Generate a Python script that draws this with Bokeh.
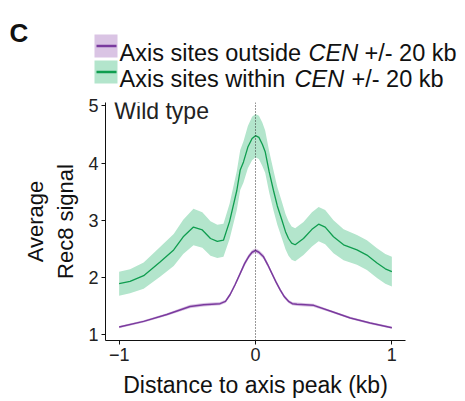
from bokeh.plotting import figure
from bokeh.layouts import column
from bokeh.models import Range1d, FixedTicker, Span, Label
from bokeh.embed import file_html
from bokeh.resources import INLINE

FONT = "Liberation Sans"

# ---- data ----
within_x = [-1.0, -0.92, -0.82, -0.70, -0.60, -0.53, -0.455, -0.39, -0.33, -0.28, -0.235,
            -0.19, -0.137, -0.112, -0.088, -0.056, -0.025, 0.0, 0.025, 0.05, 0.071, 0.10,
            0.132, 0.16, 0.194, 0.22, 0.242, 0.265, 0.291, 0.352, 0.414, 0.463, 0.511,
            0.572, 0.646, 0.744, 0.817, 0.891, 0.952, 1.0]
within_mean = [1.89, 1.93, 2.03, 2.27, 2.48, 2.71, 2.88, 2.83, 2.68, 2.63, 2.65,
               2.98, 3.52, 3.88, 4.02, 4.28, 4.43, 4.48, 4.45, 4.33, 4.20, 3.85,
               3.52, 3.25, 3.00, 2.80, 2.68, 2.60, 2.57, 2.68, 2.84, 2.93, 2.88,
               2.71, 2.57, 2.48, 2.39, 2.25, 2.15, 2.10]
within_err = [0.21, 0.21, 0.23, 0.26, 0.28, 0.30, 0.32, 0.31, 0.30, 0.29, 0.29,
              0.31, 0.34, 0.35, 0.36, 0.37, 0.38, 0.38, 0.38, 0.38, 0.37, 0.36,
              0.35, 0.33, 0.32, 0.31, 0.30, 0.29, 0.29, 0.29, 0.30, 0.30, 0.30,
              0.29, 0.27, 0.26, 0.26, 0.26, 0.26, 0.26]

outside_x = [-1.0, -0.82, -0.65, -0.48, -0.38, -0.26, -0.22, -0.186, -0.15, -0.112, -0.08,
             -0.051, -0.025, 0.0, 0.025, 0.059, 0.09, 0.12, 0.15, 0.181, 0.212, 0.242,
             0.27, 0.304, 0.426, 0.548, 0.695, 0.841, 1.0]
outside_mean = [1.13, 1.23, 1.35, 1.49, 1.52, 1.54, 1.58, 1.70, 1.87, 2.07, 2.24,
                2.36, 2.44, 2.47, 2.44, 2.36, 2.22, 2.07, 1.92, 1.78, 1.66, 1.58,
                1.54, 1.53, 1.51, 1.41, 1.29, 1.20, 1.12]
outside_err = [0.02, 0.02, 0.02, 0.03, 0.03, 0.03, 0.03, 0.03, 0.03, 0.03, 0.04,
               0.04, 0.04, 0.04, 0.04, 0.04, 0.04, 0.03, 0.03, 0.03, 0.03, 0.03,
               0.03, 0.03, 0.03, 0.02, 0.02, 0.02, 0.02]

x_ticks = [-1, 0, 1]
x_tick_labels = ["\u22121", "0", "1"]
y_ticks = [1, 2, 3, 4, 5]

panel_letter = "C"
legend_rows = [("Axis sites outside", "CEN", "+/- 20 kb"),
               ("Axis sites within", "CEN", "+/- 20 kb")]
condition = "Wild type"
x_title = "Distance to axis peak (kb)"
y_title = "Average\nRec8 signal"

GREEN_BAND, GREEN_LINE = "#b3e5cc", "#0f9d4f"
PURPLE_BAND, PURPLE_LINE = "#dac4e4", "#7a3a9e"

W = 463
TOP_H = 96
MAIN_H = 304

# ---- top panel: letter + legend ----
top = figure(width=W, height=TOP_H, x_range=Range1d(-8, W - 8), y_range=Range1d(TOP_H - 8, -8),
             x_axis_type=None, y_axis_type=None, toolbar_location=None,
             output_backend="svg", min_border=0, outline_line_color=None)
top.grid.visible = False
top.frame_align = False

top.add_layout(Label(x=1, y=24, text=panel_letter, text_font=FONT, text_font_size="26px",
                     text_font_style="bold", text_color="#111", text_baseline="alphabetic"))

sw_y = [37.5, 63.5]
bands = [PURPLE_BAND, GREEN_BAND]
lines = [PURPLE_LINE, GREEN_LINE]
top.rect(x=[97.5, 97.5], y=sw_y, width=23, height=23, fill_color=bands, line_color=None)
for yy, c in zip(sw_y, lines):
    top.line(x=[88, 108], y=[yy, yy], line_color=c, line_width=2.5)

base_y = [44, 70]
cen_x = [300, 286]
rest_x = [356, 343]
for (a, b, c), by, cx, rx in zip(legend_rows, base_y, cen_x, rest_x):
    top.add_layout(Label(x=111, y=by, text=a, text_font=FONT, text_font_size="23.5px",
                         text_color="#111", text_baseline="alphabetic"))
    top.add_layout(Label(x=cx, y=by, text=b, text_font=FONT, text_font_size="23.5px",
                         text_font_style="italic", text_color="#111", text_baseline="alphabetic"))
    top.add_layout(Label(x=rx, y=by, text=c, text_font=FONT, text_font_size="23.5px",
                         text_color="#111", text_baseline="alphabetic"))

# ---- main plot ----
p = figure(width=W, height=MAIN_H, x_range=Range1d(-1.1, 1.1), y_range=Range1d(0.895, 5.06),
           toolbar_location=None, output_backend="svg",
           min_border_left=105, min_border_right=W - 405, min_border_top=6, min_border_bottom=59,
           outline_line_color=None)
p.grid.visible = False
p.frame_align = False

p.varea(x=within_x, y1=[m - e for m, e in zip(within_mean, within_err)],
        y2=[m + e for m, e in zip(within_mean, within_err)], fill_color=GREEN_BAND)
p.varea(x=outside_x, y1=[m - e for m, e in zip(outside_mean, outside_err)],
        y2=[m + e for m, e in zip(outside_mean, outside_err)], fill_color=PURPLE_BAND)
p.line(within_x, within_mean, line_color=GREEN_LINE, line_width=1.3)
p.line(outside_x, outside_mean, line_color=PURPLE_LINE, line_width=1.5)
p.add_layout(Span(location=0, dimension="height", line_color="#333", line_dash="1 2",
                  line_width=1))

p.add_layout(Label(x=-1.035, y=4.91, text=condition, text_font=FONT, text_font_size="23px",
                   text_color="#222", text_baseline="alphabetic"))

for ax in (p.xaxis[0], p.yaxis[0]):
    ax.axis_line_color = "#111"
    ax.major_tick_line_color = "#111"
    ax.major_tick_out = 4
    ax.major_tick_in = 0
    ax.minor_tick_line_color = None
    ax.major_label_text_font = FONT
    ax.major_label_text_font_size = "18px"
    ax.major_label_text_color = "#222"
    ax.axis_label_text_font = FONT
    ax.axis_label_text_font_style = "normal"
    ax.axis_label_text_color = "#111"

p.xaxis.ticker = FixedTicker(ticks=x_ticks)
p.xaxis.major_label_overrides = {t: l for t, l in zip(x_ticks, x_tick_labels)}
p.xaxis.major_label_standoff = 3
p.xaxis.axis_label = x_title
p.xaxis.axis_label_text_font_size = "23px"
p.xaxis.axis_label_standoff = 8

p.yaxis.ticker = FixedTicker(ticks=y_ticks)
p.yaxis.major_label_standoff = 3
p.yaxis.axis_label = y_title
p.yaxis.axis_label_text_font_size = "22px"
p.yaxis.axis_label_standoff = 7

layout = column(top, p, spacing=0)
open("out.html", "w").write(file_html(layout, INLINE))
